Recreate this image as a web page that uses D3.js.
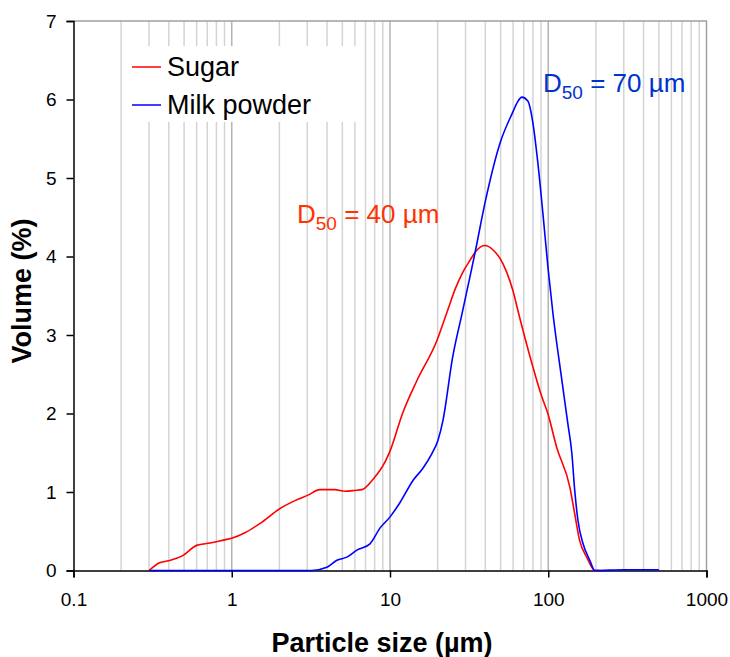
<!DOCTYPE html>
<html><head><meta charset="utf-8">
<script src="https://cdn.jsdelivr.net/npm/d3@7"></script>
<style>
html,body{margin:0;padding:0;background:#fff;}
svg{display:block;font-family:"Liberation Sans",Arial,Helvetica,sans-serif;}
</style></head>
<body><svg id="c" width="730" height="657"></svg>
<script>
// Particle size (µm) and volume (%)
const sugarSize = [0.3,0.35,0.41,0.49,0.6,0.73,0.9,1.0,1.21,1.51,2.02,2.51,3.03,3.61,4.49,5.19,6.0,6.64,7.8,9.29,10,12,14.8,19.8,23,26,28.5,32,35,39.8,45,51.7,59.7,66.2,78.8,91.2,99.4,113,137,147,158,175,197,210];
const sugarVol  = [0,0.1,0.13,0.19,0.32,0.35,0.39,0.41,0.48,0.6,0.79,0.89,0.96,1.03,1.03,1.01,1.02,1.03,1.16,1.38,1.52,2.0,2.42,2.93,3.3,3.6,3.78,3.95,4.07,4.14,4.08,3.91,3.57,3.21,2.64,2.21,2.0,1.57,1.06,0.72,0.38,0.17,0,0];
const milkSize = [0.3,1,3.21,3.99,4.62,5.34,6.18,7.47,8.64,9.98,11.6,14.0,16.1,18.4,20.1,21.6,24.9,28.5,32.0,34.4,39.8,49.5,59.7,64,68.1,74.3,80.0,86.0,92.5,99.5,107,122,133,141,147,154,166,183,197,300,500];
const milkVol  = [0,0,0,0.04,0.13,0.17,0.26,0.34,0.54,0.68,0.87,1.15,1.3,1.49,1.66,1.91,2.72,3.27,3.74,4.04,4.68,5.44,5.84,5.97,6.03,5.98,5.7,5.19,4.55,3.87,3.28,2.42,1.87,1.49,1.02,0.64,0.34,0.13,0,0.01,0.01];
const xTickVals = [0.1,1,10,100,1000];
const xTickLabels = ["0.1","1","10","100","1000"];
const yTickVals = [0,1,2,3,4,5,6,7];
const seriesNames = ["Sugar","Milk powder"];
const seriesColors = ["#ff0000","#0000ff"];

const svg = d3.select("#c");
const L = 73.5, R = 706.5, T = 21, B = 570.5;
const x = d3.scaleLog().domain([0.1,1000]).range([L,R]);
const y = d3.scaleLinear().domain([0,7]).range([B,T]);

// grid lines
const minors = [];
for (let e=-1;e<3;e++) for (let k=2;k<=9;k++) minors.push(k*Math.pow(10,e));
svg.append("g").selectAll("line").data(minors).join("line")
  .attr("x1",d=>x(d)).attr("x2",d=>x(d)).attr("y1",T).attr("y2",B)
  .attr("stroke","#d4d4d4").attr("stroke-width",1.5);
svg.append("g").selectAll("line").data([1,10,100]).join("line")
  .attr("x1",d=>x(d)).attr("x2",d=>x(d)).attr("y1",T).attr("y2",B)
  .attr("stroke","#b4b4b4").attr("stroke-width",1.5);
// top & right border
svg.append("path").attr("d",`M${L},${T}H${R}V${B}`).attr("fill","none").attr("stroke","#a0a0a0").attr("stroke-width",1.5);

// legend box (white, covers grid)
svg.append("rect").attr("x",130).attr("y",46).attr("width",230).attr("height",76).attr("fill","#fff");

// axes
const xAxis = d3.axisBottom(x).tickValues(xTickVals).tickFormat((d,i)=>xTickLabels[i]).tickSizeOuter(0).tickSize(7).tickPadding(15);
const gx = svg.append("g").attr("transform",`translate(0,${B})`).call(xAxis);
gx.select(".domain").attr("stroke","#000").attr("stroke-width",1.5);
gx.selectAll(".tick line").attr("stroke","#000").attr("stroke-width",1.5);
gx.selectAll("text").attr("font-size",19).attr("fill","#000").attr("font-family","Liberation Sans, Arial, sans-serif");

const yAxis = d3.axisLeft(y).tickValues(yTickVals).tickFormat(d3.format("d")).tickSizeOuter(0).tickSize(7).tickPadding(10);
const gy = svg.append("g").attr("transform",`translate(${L},0)`).call(yAxis);
gy.select(".domain").attr("stroke","#000").attr("stroke-width",1.5);
gy.selectAll(".tick line").attr("stroke","#000").attr("stroke-width",1.5);
gy.selectAll("text").attr("font-size",19).attr("fill","#000").attr("font-family","Liberation Sans, Arial, sans-serif");

// lines
const line = d3.line().x(d=>x(d[0])).y(d=>y(d[1])).curve(d3.curveMonotoneX);
const sugar = sugarSize.map((s,i)=>[s,sugarVol[i]]);
const milk = milkSize.map((s,i)=>[s,milkVol[i]]);
svg.append("path").datum(sugar).attr("d",line).attr("fill","none").attr("stroke",seriesColors[0]).attr("stroke-width",1.6);
svg.append("path").datum(milk).attr("d",line).attr("fill","none").attr("stroke",seriesColors[1]).attr("stroke-width",1.6);

// legend
seriesNames.forEach((n,i)=>{
  const yy = 67 + i*38;
  svg.append("line").attr("x1",132).attr("x2",161).attr("y1",yy).attr("y2",yy).attr("stroke",seriesColors[i]).attr("stroke-width",1.5);
  svg.append("text").attr("x",167).attr("y",yy+9).attr("font-size",27).attr("fill","#000").text(n);
});

// annotations
function d50(xp, yp, color, val){
  const t = svg.append("text").attr("x",xp).attr("y",yp).attr("font-size",26).attr("fill",color);
  t.append("tspan").text("D");
  t.append("tspan").attr("font-size",19).attr("dy",7).text("50");
  t.append("tspan").attr("dy",-7).text(" = " + val + " µm");
}
d50(297,223,"#ff3300","40");
d50(543,92,"#0033cc","70");

// axis titles
svg.append("text").attr("x",382).attr("y",652).attr("text-anchor","middle").attr("font-size",27).attr("font-weight","bold").text("Particle size (µm)");
svg.append("text").attr("transform","translate(31,291) rotate(-90)").attr("text-anchor","middle").attr("font-size",27).attr("font-weight","bold").text("Volume (%)");
</script></body></html>
